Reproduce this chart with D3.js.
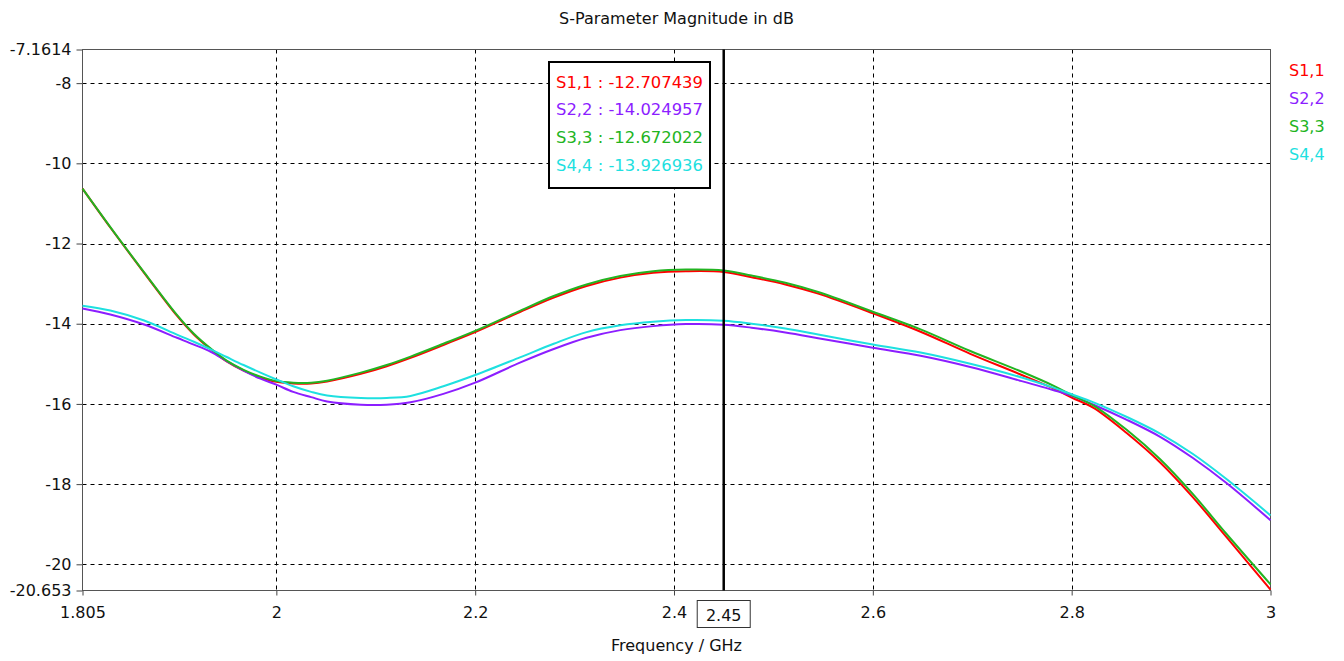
<!DOCTYPE html>
<html>
<head>
<meta charset="utf-8">
<script src="https://cdn.jsdelivr.net/npm/d3@7/dist/d3.min.js"></script>
<style>
  html, body { margin: 0; padding: 0; background: #ffffff; }
  svg { display: block; }
  text { font-family: "DejaVu Sans", Verdana, sans-serif; fill: #111; }
</style>
</head>
<body>
<svg id="chart" width="1344" height="661"></svg>
<script>
// Frequency samples (GHz)
const freqs = [1.805, 1.833, 1.867, 1.9, 1.917, 1.934, 1.95, 1.967, 1.984, 2.0,
  2.017, 2.035, 2.051, 2.085, 2.111, 2.135, 2.168, 2.2, 2.245, 2.279,
  2.312, 2.346, 2.379, 2.412, 2.45, 2.478, 2.512, 2.545, 2.6, 2.648,
  2.698, 2.748, 2.782, 2.8, 2.822, 2.855, 2.889, 2.922, 2.956, 3.0];

// Reflection magnitudes (dB)
const s11 = [-10.63, -11.6, -12.73, -13.8, -14.27, -14.64, -14.94, -15.17, -15.34, -15.45,
  -15.49, -15.49, -15.44, -15.25, -15.06, -14.85, -14.53, -14.21, -13.71, -13.35,
  -13.06, -12.85, -12.73, -12.69, -12.707439, -12.84, -13.02, -13.25, -13.74, -14.2,
  -14.75, -15.26, -15.62, -15.84, -16.1, -16.72, -17.46, -18.33, -19.33, -20.63];

const s22 = [-13.62, -13.77, -14.02, -14.35, -14.52, -14.7, -14.93, -15.17, -15.37, -15.52,
  -15.7, -15.83, -15.94, -16.02, -16.02, -15.96, -15.75, -15.47, -14.97, -14.63,
  -14.35, -14.16, -14.06, -14.01, -14.024957, -14.1, -14.22, -14.36, -14.6, -14.8,
  -15.08, -15.42, -15.66, -15.8, -16.02, -16.39, -16.82, -17.35, -17.98, -18.9];

const s33 = [-10.63, -11.59, -12.72, -13.78, -14.25, -14.62, -14.92, -15.15, -15.32, -15.43,
  -15.47, -15.47, -15.42, -15.22, -15.03, -14.82, -14.5, -14.18, -13.68, -13.31,
  -13.02, -12.81, -12.69, -12.65, -12.672022, -12.8, -12.98, -13.21, -13.7, -14.14,
  -14.68, -15.18, -15.55, -15.78, -16.04, -16.64, -17.38, -18.25, -19.25, -20.5];

const s44 = [-13.55, -13.67, -13.92, -14.27, -14.45, -14.64, -14.83, -15.03, -15.22, -15.39,
  -15.56, -15.7, -15.79, -15.85, -15.85, -15.8, -15.56, -15.28, -14.84, -14.5,
  -14.21, -14.04, -13.95, -13.91, -13.926936, -14.0, -14.12, -14.27, -14.52, -14.72,
  -15.0, -15.33, -15.6, -15.76, -15.96, -16.32, -16.74, -17.25, -17.88, -18.78];

const seriesNames = ["S1,1", "S2,2", "S3,3", "S4,4"];
const seriesColors = ["#ff0000", "#8c1eff", "#22b422", "#1ee0e0"];
const seriesValues = [s11, s22, s33, s44];

// Axis ticks
const xTicks = [1.805, 2, 2.2, 2.4, 2.6, 2.8, 3];
const xGrid = [2, 2.2, 2.4, 2.6, 2.8];
const yTicks = [-7.1614, -8, -10, -12, -14, -16, -18, -20, -20.653];
const yGrid = [-8, -10, -12, -14, -16, -18, -20];

const markerFreq = 2.45;
const titleText = "S-Parameter Magnitude in dB";
const xLabelText = "Frequency / GHz";

const svg = d3.select("#chart");
const plotL = 82.5, plotR = 1270.5, plotT = 49.5, plotB = 590.5;

const x = d3.scaleLinear().domain([1.805, 3]).range([plotL, plotR]);
const y = d3.scaleLinear().domain([-20.653, -7.1614]).range([plotB, plotT]);

// Title
svg.append("text")
  .attr("x", (plotL + plotR) / 2).attr("y", 24)
  .attr("text-anchor", "middle").attr("font-size", 16)
  .text(titleText);

// Grid
const grid = svg.append("g").attr("stroke", "#000").attr("stroke-width", 1)
  .attr("stroke-dasharray", "4,4");
grid.selectAll("line.h").data(yGrid).join("line").attr("class", "h")
  .attr("x1", plotL).attr("x2", plotR)
  .attr("y1", d => Math.round(y(d)) + 0.5).attr("y2", d => Math.round(y(d)) + 0.5);
grid.selectAll("line.v").data(xGrid).join("line").attr("class", "v")
  .attr("y1", plotT).attr("y2", plotB)
  .attr("x1", d => Math.round(x(d)) + 0.5).attr("x2", d => Math.round(x(d)) + 0.5);

// Y axis
const yAxis = d3.axisLeft(y).tickValues(yTicks).tickSize(6).tickPadding(5)
  .tickFormat(d => String(d));
const gy = svg.append("g").attr("transform", `translate(${plotL},0)`).call(yAxis);
gy.select(".domain").remove();
gy.selectAll(".tick line").attr("stroke", "#444");
gy.selectAll(".tick text").attr("font-size", 16).attr("font-family", "DejaVu Sans").attr("fill", "#111");

// X axis
const xAxis = d3.axisBottom(x).tickValues(xTicks).tickSize(5).tickPadding(11)
  .tickFormat(d => String(d));
const gx = svg.append("g").attr("transform", `translate(0,${plotB})`).call(xAxis);
gx.select(".domain").remove();
gx.selectAll(".tick line").attr("stroke", "#444");
gx.selectAll(".tick text").attr("font-size", 16).attr("font-family", "DejaVu Sans").attr("fill", "#111");

// Plot frame
svg.append("rect")
  .attr("x", plotL).attr("y", plotT)
  .attr("width", plotR - plotL).attr("height", plotB - plotT)
  .attr("fill", "none").attr("stroke", "#555").attr("stroke-width", 1);

// Curves
const line = d3.line()
  .x((d, i) => x(freqs[i]))
  .y(d => y(d))
  .curve(d3.curveCatmullRom.alpha(0.5));

svg.append("g").selectAll("path").data(seriesValues).join("path")
  .attr("d", d => line(d))
  .attr("fill", "none")
  .attr("stroke", (d, i) => seriesColors[i])
  .attr("stroke-width", 2)
  .attr("stroke-linejoin", "round");

// Marker line
const mx = x(markerFreq);
svg.append("line")
  .attr("x1", mx).attr("x2", mx).attr("y1", plotT).attr("y2", plotB)
  .attr("stroke", "#000").attr("stroke-width", 2.5);

// Marker frequency label in a box
svg.append("rect")
  .attr("x", mx - 26.5).attr("y", 600.5).attr("width", 53).attr("height", 27)
  .attr("fill", "#fff").attr("stroke", "#333").attr("stroke-width", 1);
svg.append("text")
  .attr("x", mx).attr("y", 621).attr("text-anchor", "middle").attr("font-size", 16)
  .text(String(markerFreq));

// X axis title
svg.append("text")
  .attr("x", (plotL + plotR) / 2).attr("y", 651)
  .attr("text-anchor", "middle").attr("font-size", 16)
  .text(xLabelText);

// Marker readout box
const mIdx = freqs.indexOf(markerFreq);
svg.append("rect")
  .attr("x", 549).attr("y", 62).attr("width", 161).attr("height", 126)
  .attr("fill", "#fff").attr("stroke", "#000").attr("stroke-width", 2);
svg.append("g").selectAll("text").data(seriesNames).join("text")
  .attr("x", 556).attr("y", (d, i) => 87.5 + i * 27.8)
  .attr("font-size", 16.4)
  .style("fill", (d, i) => seriesColors[i])
  .text((d, i) => `${d} : ${seriesValues[i][mIdx].toFixed(6)}`);

// Series legend on the right
svg.append("g").selectAll("text").data(seriesNames).join("text")
  .attr("x", 1289).attr("y", (d, i) => 75.7 + i * 28.1)
  .attr("font-size", 16)
  .style("fill", (d, i) => seriesColors[i])
  .text(d => d);
</script>
</body>
</html>
